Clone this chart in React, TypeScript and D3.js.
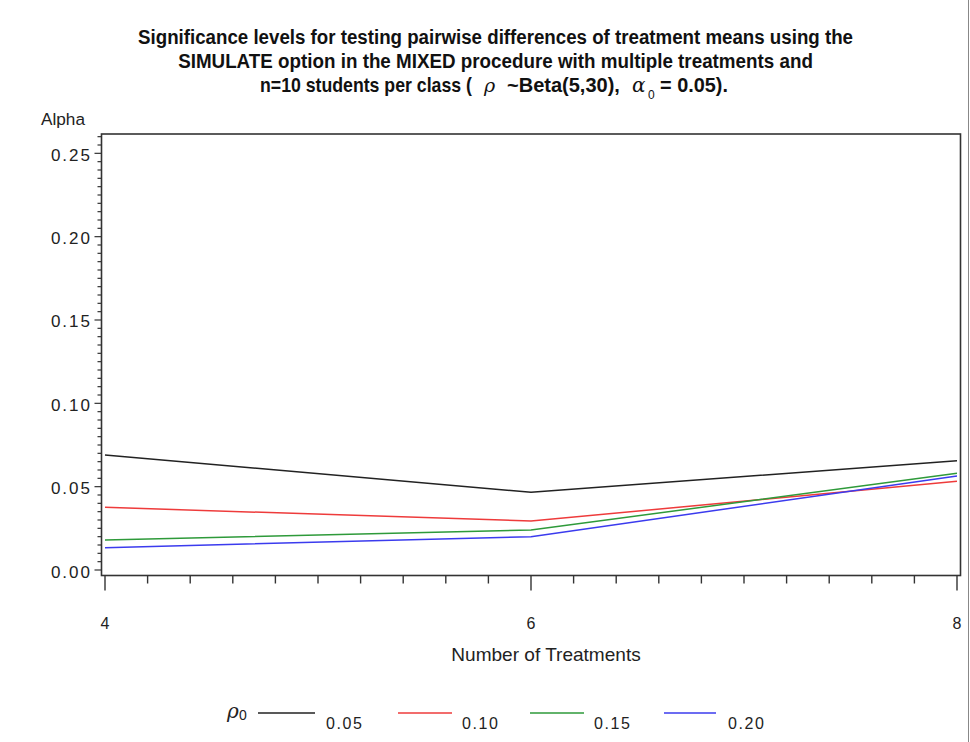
import React from "react";
import * as d3 from "d3";

// Number of treatments on the x axis
const treatments = [4, 6, 8];
// Significance levels for each rho0 setting
const rho0Labels = ["0.05", "0.10", "0.15", "0.20"];
const alphaRho005 = [0.069, 0.0466, 0.0656];
const alphaRho010 = [0.0376, 0.0294, 0.0532];
const alphaRho015 = [0.018, 0.024, 0.058];
const alphaRho020 = [0.0134, 0.02, 0.0564];
const seriesColors = ["#222222", "#ee3b3b", "#2e9a3a", "#3b3bee"];
const yTickValues = [0, 0.05, 0.1, 0.15, 0.2, 0.25];
const xTickValues = [4, 6, 8];

const W = 970;
const H = 742;
const frame = { left: 101.5, right: 960.5, top: 134, bottom: 575.5 };

const baseFont = "'Liberation Sans', Arial, sans-serif";
const symbolFont = "'DejaVu Serif', serif";

let measureCtx: CanvasRenderingContext2D | null = null;
function measure(text: string, font: string): number {
  if (!measureCtx) measureCtx = document.createElement("canvas").getContext("2d");
  if (!measureCtx) return text.length * 10;
  measureCtx.font = font;
  return measureCtx.measureText(text).width;
}

// Text squeezed horizontally to a given width (condensed look)
function FitText(props: {
  x: number;
  y: number;
  width: number;
  size: number;
  bold?: boolean;
  anchor?: "start" | "middle" | "end";
  fill?: string;
  children: string;
}) {
  const { x, y, width, size, bold, anchor = "start", fill = "#111", children } = props;
  const natural = measure(children, `${bold ? "bold " : ""}${size}px 'Liberation Sans'`);
  const sx = natural > 0 ? width / natural : 1;
  return (
    <text
      transform={`translate(${x},${y}) scale(${sx},1)`}
      fontFamily={baseFont}
      fontWeight={bold ? "bold" : "normal"}
      fontSize={size}
      textAnchor={anchor}
      fill={fill}
    >
      {children}
    </text>
  );
}

export default function App() {
  const x = d3.scaleLinear().domain([4, 8]).range([105, 957]);
  const y = d3.scaleLinear().domain([0, 0.25]).range([570, 153.33]);

  const allSeries = [alphaRho005, alphaRho010, alphaRho015, alphaRho020];
  const line = d3
    .line<number>()
    .x((_, i) => x(treatments[i]))
    .y((d) => y(d));

  const yMinor = d3.range(0, 0.2601, 0.005);
  const xMinor = d3.range(4, 8.0001, 0.2);

  const legendItems = [
    { x1: 258, x2: 315, tx: 326 },
    { x1: 398, x2: 452, tx: 462 },
    { x1: 530, x2: 584, tx: 594 },
    { x1: 664, x2: 716, tx: 728 },
  ];

  return (
    <div style={{ position: "absolute", left: 0, top: 0 }}>
      <svg width={W} height={H} style={{ display: "block", background: "#fff" }}>
        {/* title */}
        <FitText x={495.5} y={44} width={715} size={20} bold anchor="middle">
          Significance levels for testing pairwise differences of treatment means using the
        </FitText>
        <FitText x={495.5} y={68} width={635} size={20} bold anchor="middle">
          SIMULATE option in the MIXED procedure with multiple treatments and
        </FitText>
        <FitText x={260} y={92} width={212} size={20} bold>
          n=10 students per class (
        </FitText>
        <text x={484} y={92} fontFamily={symbolFont} fontStyle="italic" fontSize={19} fill="#111">
          ρ
        </text>
        <FitText x={507} y={92} width={113} size={20} bold>
          ~Beta(5,30),
        </FitText>
        <text x={632} y={92} fontFamily={symbolFont} fontStyle="italic" fontSize={20} fill="#111">
          α
        </text>
        <text x={648} y={99} fontFamily={baseFont} fontSize={12} fill="#111">
          0
        </text>
        <FitText x={660} y={92} width={68} size={20} bold>
          = 0.05).
        </FitText>

        {/* y axis title */}
        <FitText x={41} y={125} width={44} size={17} fill="#222">
          Alpha
        </FitText>

        {/* plot frame */}
        <rect
          x={frame.left}
          y={frame.top}
          width={frame.right - frame.left}
          height={frame.bottom - frame.top}
          fill="none"
          stroke="#333"
          strokeWidth={1.6}
        />

        {/* y ticks */}
        <g stroke="#333" strokeWidth={1.2}>
          {yMinor.map((v, i) => {
            const major = i % 10 === 0;
            return (
              <line
                key={i}
                x1={frame.left}
                x2={frame.left - (major ? 7 : 4)}
                y1={y(v)}
                y2={y(v)}
              />
            );
          })}
        </g>
        <g fontFamily={baseFont} fontSize={17} fill="#222" textAnchor="end" letterSpacing={2}>
          {yTickValues.map((v) => (
            <text key={v} x={92} y={y(v) + 2} dominantBaseline="central">
              {d3.format(".2f")(v)}
            </text>
          ))}
        </g>

        {/* x ticks */}
        <g stroke="#333" strokeWidth={1.4}>
          {xMinor.map((v, i) => {
            const major = i % 10 === 0;
            return (
              <line
                key={i}
                x1={x(v)}
                x2={x(v)}
                y1={frame.bottom}
                y2={frame.bottom + (major ? 15 : 8)}
              />
            );
          })}
        </g>
        <g fontFamily={baseFont} fontSize={16} fill="#222" textAnchor="middle">
          {xTickValues.map((v) => (
            <text key={v} x={x(v)} y={629}>
              {v}
            </text>
          ))}
        </g>
        <FitText x={546} y={661} width={190} size={18} anchor="middle" fill="#222">
          Number of Treatments
        </FitText>

        {/* series */}
        <g fill="none" strokeWidth={1.5}>
          {allSeries.map((s, i) => (
            <path key={i} d={line(s) || ""} stroke={seriesColors[i]} />
          ))}
        </g>

        {/* legend */}
        <text x={227} y={718} fontFamily={symbolFont} fontStyle="italic" fontSize={20} fill="#222">
          ρ
        </text>
        <text x={239} y={720} fontFamily={baseFont} fontSize={14} fill="#222">
          0
        </text>
        {legendItems.map((it, i) => (
          <g key={i}>
            <line x1={it.x1} x2={it.x2} y1={713} y2={713} stroke={seriesColors[i]} strokeWidth={1.5} />
            <text x={it.tx} y={729} fontFamily={baseFont} fontSize={16} fill="#222" letterSpacing={1.6}>
              {rho0Labels[i]}
            </text>
          </g>
        ))}

        {/* outer edge */}
        <line x1={968.5} x2={968.5} y1={0} y2={H} stroke="#888" strokeWidth={1} />
      </svg>
    </div>
  );
}
